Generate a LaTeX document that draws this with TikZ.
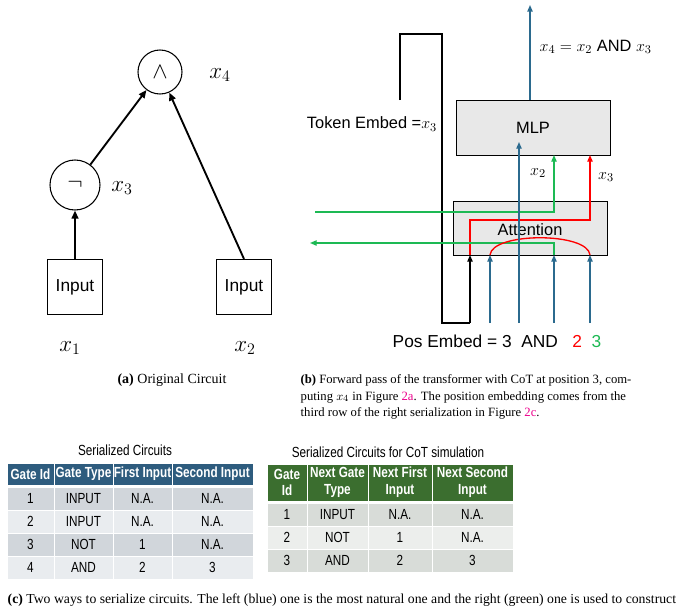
\documentclass[tikz,border=0pt]{standalone}
\usepackage{fontspec}
\setmainfont{Liberation Serif}
\newfontfamily\sans{Liberation Sans}
\newfontfamily\narrow{Liberation Sans}[FakeStretch=0.8]
\usetikzlibrary{arrows.meta}
\definecolor{tb}{HTML}{2B6A8E}
\definecolor{hb}{HTML}{2E5C7E}
\definecolor{hg}{HTML}{3B6E2F}
\definecolor{gr}{HTML}{1DB954}
\definecolor{r1}{HTML}{D1D6DB}
\definecolor{r2}{HTML}{E9ECEF}
\definecolor{g1}{HTML}{D8DCD8}
\definecolor{g2}{HTML}{ECEEEC}
\begin{document}
\begin{tikzpicture}[x=0.75pt,y=-0.75pt,
  arr/.style={-{Triangle[length=6pt,width=5pt]},line width=1.4pt},
  thin/.style={line width=1pt},
  box/.style={draw,thick,fill=gray!18},
  lab/.style={font=\sans\fontsize{12.3}{14}\selectfont},
  cell/.style={font=\narrow\fontsize{11}{12.5}\selectfont,align=center},
  hcell/.style={font=\narrow\bfseries\fontsize{11}{12.5}\selectfont,text=white,align=center},
  capt/.style={font=\fontsize{9.5}{11}\selectfont,anchor=west}]
\useasboundingbox (0,0) rectangle (684,610);
% (a) circuit
\node[draw,thick,circle,minimum size=44*0.75pt] (and) at (160,72) {\LARGE$\wedge$};
\node at (220,75) {\LARGE$x_4$};
\node[draw,thick,circle,minimum size=50*0.75pt] (not) at (75,185) {\LARGE$\neg$};
\node at (122,188) {\LARGE$x_3$};
\node[draw,thick,minimum width=55*0.75pt,minimum height=55*0.75pt,font=\sans\fontsize{13}{15}\selectfont] (in1) at (75,287) {Input};
\node[draw,thick,minimum width=55*0.75pt,minimum height=55*0.75pt,font=\sans\fontsize{13}{15}\selectfont] (in2) at (244,287) {Input};
\node at (70,348) {\LARGE$x_1$};
\node at (245,348) {\LARGE$x_2$};
\draw[arr] (in1) -- (not);
\draw[arr] (not) -- (and);
\draw[arr] (in2.north) -- (and);
\node[font=\fontsize{10.5}{12}\selectfont] at (172,380) {\textbf{(a)} Original Circuit};
% (b)
\node[box,minimum width=154*0.75pt,minimum height=55*0.75pt,anchor=north west,lab] (mlp) at (456,100) {};
\node[lab] at (533,128) {MLP};
\node[box,minimum width=154*0.75pt,minimum height=54*0.75pt,anchor=north west] (att) at (453,201) {};
\node[lab] at (530,230) {Attention};
\coordinate (t1) at (400,100);
\draw[thin] (t1) -- (400,34) -- (442,34) -- (442,323) -- (470,323);
\draw[thin,-{Triangle[length=5pt,width=4pt]}] (470,323) -- (470,255);
\draw[thin,red,-{Triangle[length=5pt,width=4pt]}] (470,255) -- (470,220) -- (590,220) -- (590,155);
\draw[thin,gr,-{Triangle[length=5pt,width=4pt]}] (315,212) -- (554,212) -- (554,155);
\draw[thin,gr,-{Triangle[length=5pt,width=4pt]}] (554,255) -- (554,243) -- (310,243);
\draw[red,thin] (490,255) .. controls (492,232) and (588,232) .. (590,255);
\draw[thin,tb,-{Triangle[length=5pt,width=4pt]}] (530,100) -- (530,5);
\draw[thin,tb,-{Triangle[length=5pt,width=4pt]}] (519,323) -- (519,142);
\foreach \x in {490,554,590} \draw[thin,tb,-{Triangle[length=5pt,width=4pt]}] (\x,323) -- (\x,255);
\node[lab,anchor=west] at (535,47) {$x_4=x_2$ AND $x_3$};
\node[lab] at (372,124) {Token Embed =$x_3$};
\node[lab] at (538,173) {$x_2$};
\node[lab] at (606,177) {$x_3$};
\node[lab,anchor=west,font=\sans\fontsize{13}{15}\selectfont] at (388,341) {Pos Embed = 3\ \ AND\ \ \ \textcolor{red}{2}\ \ \textcolor{gr}{3}};
\node[capt] at (296,380) {\textbf{(b)} Forward pass of the transformer with CoT at position 3, com-};
\node[capt] at (296,397) {puting $x_4$ in Figure \textcolor{magenta}{2a}. The position embedding comes from the};
\node[capt] at (296,413) {third row of the right serialization in Figure \textcolor{magenta}{2c}.};
% left table
\node[font=\narrow\fontsize{11}{13}\selectfont] at (125,450) {Serialized Circuits};
\foreach \a/\b/\t [count=\i] in {7/54/Gate Id,54/113/Gate Type,113/172/First Input,172/253/Second Input}
  \node[fill=hb,draw=white,minimum width=(\b-\a)*0.75pt,minimum height=22*0.75pt,hcell,inner sep=0pt] (h\i) at ({(\a+\b)/2},474) {\t};
\foreach \r/\c/\d/\e/\f [count=\j] in {1/INPUT/N.A./N.A./r1,2/INPUT/N.A./N.A./r2,3/NOT/1/N.A./r1,4/AND/2/3/r2}{
  \foreach \a/\b/\t [count=\i] in {7/54/\r,54/113/\c,113/172/\d,172/253/\e}
    \node[fill=\f,draw=white,minimum width=(\b-\a)*0.75pt,minimum height=23*0.75pt,cell,inner sep=0pt] (l\j\i) at ({(\a+\b)/2},{487+23*\j-11.5}) {\t};
}
% right table
\node[font=\narrow\fontsize{11}{13}\selectfont] at (388,452) {Serialized Circuits for CoT simulation};
\foreach \a/\b/\t [count=\i] in {267/307/Gate\\Id,307/368/Next Gate\\Type,368/432/Next First\\Input,432/513/Next Second\\Input}
  \node[fill=hg,draw=white,minimum width=(\b-\a)*0.75pt,minimum height=37*0.75pt,hcell,inner sep=0pt] (g\i) at ({(\a+\b)/2},482.5) {\t};
\foreach \r/\c/\d/\e/\f [count=\j] in {1/INPUT/N.A./N.A./g1,2/NOT/1/N.A./g2,3/AND/2/3/g1}{
  \foreach \a/\b/\t [count=\i] in {267/307/\r,307/368/\c,368/432/\d,432/513/\e}
    \node[fill=\f,draw=white,minimum width=(\b-\a)*0.75pt,minimum height=23*0.75pt,cell,inner sep=0pt] (r\j\i) at ({(\a+\b)/2},{503+23*\j-11.5}) {\t};
}
\node[capt,font=\fontsize{10.3}{12}\selectfont] at (3,600) {\textbf{(c)} Two ways to serialize circuits. The left (blue) one is the most natural one and the right (green) one is used to construct};
\end{tikzpicture}
\end{document}
